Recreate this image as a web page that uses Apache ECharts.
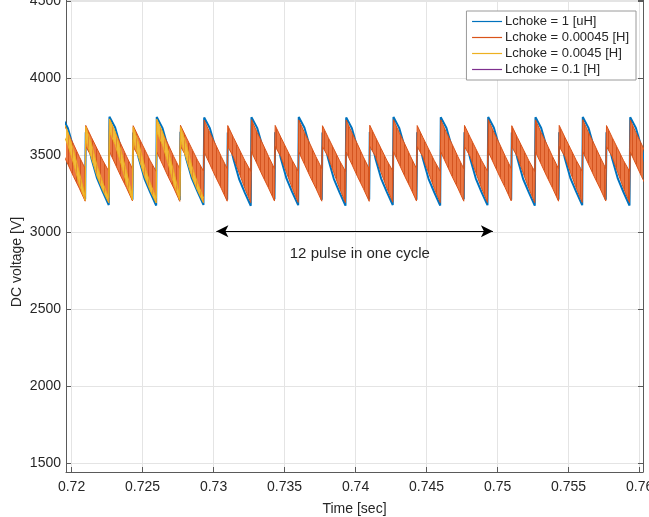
<!DOCTYPE html>
<html>
<head>
<meta charset="utf-8">
<script src="https://cdn.jsdelivr.net/npm/echarts@6/dist/echarts.min.js"></script>
<style>html,body{margin:0;padding:0;background:#fff}#c{width:649px;height:517px}</style>
</head>
<body>
<div id="c"></div>
<script>
// ---- data ----
const seriesNames = ['Lchoke = 1 [uH]', 'Lchoke = 0.00045 [H]', 'Lchoke = 0.0045 [H]', 'Lchoke = 0.1 [H]'];
const xTicks = [0.72, 0.725, 0.73, 0.735, 0.74, 0.745, 0.75, 0.755, 0.76];
const yTicks = [1500, 2000, 2500, 3000, 3500, 4000, 4500];

// sample times (s): peak, then points along each decay, last one is the trough just before the next rise
const time = [
  0.71934, 0.71974, 0.72014, 0.72054, 0.72096,
  0.72100, 0.72140, 0.72180, 0.72220, 0.72262,
  0.72267, 0.72307, 0.72347, 0.72387, 0.72429,
  0.72434, 0.72474, 0.72514, 0.72554, 0.72596,
  0.72600, 0.72640, 0.72680, 0.72720, 0.72762,
  0.72767, 0.72807, 0.72847, 0.72887, 0.72929,
  0.72934, 0.72974, 0.73014, 0.73054, 0.73096,
  0.73100, 0.73140, 0.73180, 0.73220, 0.73262,
  0.73267, 0.73307, 0.73347, 0.73387, 0.73429,
  0.73434, 0.73474, 0.73514, 0.73554, 0.73596,
  0.73600, 0.73640, 0.73680, 0.73720, 0.73762,
  0.73767, 0.73807, 0.73847, 0.73887, 0.73929,
  0.73934, 0.73974, 0.74014, 0.74054, 0.74096,
  0.74100, 0.74140, 0.74180, 0.74220, 0.74262,
  0.74267, 0.74307, 0.74347, 0.74387, 0.74429,
  0.74434, 0.74474, 0.74514, 0.74554, 0.74596,
  0.74600, 0.74640, 0.74680, 0.74720, 0.74762,
  0.74767, 0.74807, 0.74847, 0.74887, 0.74929,
  0.74934, 0.74974, 0.75014, 0.75054, 0.75096,
  0.75100, 0.75140, 0.75180, 0.75220, 0.75262,
  0.75267, 0.75307, 0.75347, 0.75387, 0.75429,
  0.75434, 0.75474, 0.75514, 0.75554, 0.75596,
  0.75600, 0.75640, 0.75680, 0.75720, 0.75762,
  0.75767, 0.75807, 0.75847, 0.75887, 0.75929,
  0.75934, 0.75974, 0.76014, 0.76054, 0.76096
];

// Lchoke = 1 uH (blue)
const blueV = [
  3745, 3675, 3545, 3392, 3212,
  3648, 3478, 3348, 3260, 3175,
  3748, 3678, 3548, 3390, 3210,
  3645, 3475, 3345, 3258, 3172,
  3746, 3676, 3545, 3388, 3208,
  3650, 3478, 3348, 3262, 3176,
  3744, 3674, 3546, 3392, 3210,
  3646, 3474, 3344, 3256, 3170,
  3745, 3676, 3547, 3390, 3212,
  3648, 3477, 3346, 3259, 3174,
  3747, 3677, 3546, 3391, 3209,
  3646, 3475, 3345, 3257, 3171,
  3744, 3674, 3544, 3389, 3211,
  3649, 3478, 3347, 3260, 3175,
  3746, 3676, 3546, 3390, 3210,
  3647, 3476, 3345, 3258, 3172,
  3745, 3675, 3545, 3392, 3212,
  3648, 3477, 3347, 3259, 3174,
  3747, 3677, 3547, 3390, 3209,
  3646, 3475, 3344, 3257, 3171,
  3745, 3675, 3546, 3391, 3211,
  3648, 3477, 3346, 3260, 3174,
  3746, 3676, 3545, 3389, 3210,
  3647, 3476, 3346, 3258, 3172,
  3745, 3675, 3546, 3391, 3211
];

// Lchoke = 0.00045 H (orange): upper and lower edge of the fast ripple band
const orangeTop = [
  3728, 3645, 3570, 3490, 3412,
  3692, 3615, 3540, 3465, 3395,
  3730, 3647, 3572, 3492, 3410,
  3690, 3613, 3538, 3463, 3393,
  3728, 3646, 3570, 3489, 3411,
  3693, 3616, 3541, 3466, 3396,
  3727, 3644, 3569, 3490, 3412,
  3691, 3614, 3539, 3464, 3394,
  3729, 3646, 3571, 3491, 3411,
  3692, 3615, 3540, 3465, 3395,
  3728, 3645, 3570, 3490, 3412,
  3690, 3614, 3539, 3464, 3394,
  3727, 3644, 3569, 3489, 3410,
  3693, 3616, 3541, 3466, 3396,
  3729, 3646, 3571, 3491, 3412,
  3691, 3614, 3539, 3464, 3394,
  3728, 3645, 3570, 3490, 3411,
  3692, 3615, 3540, 3465, 3395,
  3730, 3647, 3572, 3492, 3412,
  3690, 3613, 3538, 3463, 3393,
  3728, 3645, 3570, 3490, 3411,
  3692, 3615, 3540, 3465, 3395,
  3729, 3646, 3571, 3491, 3412,
  3691, 3614, 3539, 3464, 3394,
  3728, 3645, 3570, 3490, 3411
];
const orangeBottom = [
  3520, 3440, 3360, 3285, 3200,
  3555, 3490, 3385, 3285, 3192,
  3522, 3442, 3362, 3287, 3202,
  3553, 3488, 3383, 3283, 3190,
  3520, 3440, 3360, 3285, 3199,
  3556, 3491, 3386, 3286, 3193,
  3519, 3439, 3359, 3284, 3200,
  3554, 3489, 3384, 3284, 3191,
  3521, 3441, 3361, 3286, 3201,
  3555, 3490, 3385, 3285, 3192,
  3520, 3440, 3360, 3285, 3200,
  3553, 3488, 3384, 3284, 3190,
  3519, 3439, 3359, 3284, 3199,
  3556, 3491, 3386, 3286, 3193,
  3521, 3441, 3361, 3286, 3201,
  3554, 3489, 3384, 3284, 3191,
  3520, 3440, 3360, 3285, 3200,
  3555, 3490, 3385, 3285, 3192,
  3522, 3442, 3362, 3287, 3202,
  3553, 3488, 3383, 3283, 3190,
  3520, 3440, 3360, 3285, 3200,
  3555, 3490, 3385, 3285, 3192,
  3521, 3441, 3361, 3286, 3201,
  3554, 3489, 3384, 3284, 3191,
  3520, 3440, 3360, 3285, 3200
];

// Lchoke = 0.0045 H (yellow): only visible during the first pulses
const yellowTime = [
  0.71934, 0.71974, 0.72014, 0.72054, 0.72096,
  0.72100, 0.72140, 0.72180, 0.72220, 0.72262,
  0.72267, 0.72307, 0.72347, 0.72387, 0.72429,
  0.72434, 0.72474, 0.72514, 0.72554, 0.72596,
  0.72600, 0.72640, 0.72680, 0.72720, 0.72762,
  0.72767, 0.72807, 0.72847, 0.72887, 0.72929
];
const yellowTop = [
  3732, 3650, 3530, 3390, 3232,
  3684, 3575, 3430, 3320, 3222,
  3734, 3652, 3532, 3392, 3234,
  3682, 3573, 3428, 3318, 3220,
  3733, 3651, 3531, 3391, 3233,
  3683, 3574, 3429, 3319, 3221
];
const yellowBottom = [
  3650, 3565, 3445, 3310, 3205,
  3600, 3480, 3360, 3270, 3190,
  3652, 3567, 3447, 3312, 3207,
  3598, 3478, 3358, 3268, 3188,
  3651, 3566, 3446, 3311, 3206,
  3599, 3479, 3359, 3269, 3189
];

// Lchoke = 0.1 H (purple): not visible in the plotted window
const purpleTime = [];
const purpleV = [];

// annotation
const arrowStart = [0.7302, 3005];
const arrowEnd = [0.74967, 3005];
const noteText = '12 pulse in one cycle';
const notePos = [0.7403, 2858];

// ---- build the chart ----
const C_BLUE = '#0072BD', C_ORANGE = '#D95319', C_YELLOW = '#EDB120', C_PURPLE = '#7E2F8E';
const pairs = (xs, ys) => xs.map((x, i) => [x, ys[i]]);
const TXT = '#262626';
const FONT = 'Liberation Sans, Arial, sans-serif';

function stripes(base, stripe) {
  const cv = document.createElement('canvas');
  cv.width = 4; cv.height = 4;
  const g = cv.getContext('2d');
  g.fillStyle = base; g.fillRect(0, 0, 4, 4);
  g.fillStyle = stripe; g.fillRect(0, 0, 1, 4);
  return {image: cv, repeat: 'repeat'};
}

function bandSeries(name, xs, hi, lo, fill, z) {
  return {
    name: name, type: 'custom', clip: true, z: z, silent: true,
    data: [[xs[0], hi[0]]],
    renderItem: function (params, api) {
      const pts = [];
      for (let i = 0; i < xs.length; i++) pts.push(api.coord([xs[i], hi[i]]));
      for (let i = xs.length - 1; i >= 0; i--) pts.push(api.coord([xs[i], lo[i]]));
      return {type: 'polygon', shape: {points: pts}, style: {fill: fill, stroke: null}};
    }
  };
}

const chart = echarts.init(document.getElementById('c'), null, {renderer: 'canvas'});
const xMin = 0.71961, xMax = 0.76024, yMin = 1442, yMax = 4506;
const axisCommon = {
  axisLine: {show: true, lineStyle: {color: '#5a5a5a', width: 1}},
  axisTick: {show: true, inside: true, length: 5, lineStyle: {color: '#5a5a5a'}},
};
chart.setOption({
  animation: false,
  backgroundColor: '#fff',
  grid: {left: 66, right: 6, top: 0, bottom: 45, containLabel: false, outerBoundsMode: 'none'},
  legend: {
    data: seriesNames,
    orient: 'vertical',
    right: 13, top: 11,
    itemWidth: 30, itemHeight: 12, itemGap: 3,
    padding: [4, 7, 4, 5],
    backgroundColor: '#fff',
    borderColor: '#9a9a9a', borderWidth: 1,
    itemStyle: {color: 'rgba(0,0,0,0)', borderWidth: 0, opacity: 0},
    lineStyle: {width: 1.2},
    textStyle: {fontFamily: FONT, fontSize: 13, color: TXT, padding: [0, 0, 0, -2]},
    selectedMode: false
  },
  xAxis: Object.assign({
    type: 'value', min: xMin, max: xMax, splitNumber: 8,
    minInterval: xTicks[1] - xTicks[0], maxInterval: xTicks[1] - xTicks[0],
    name: 'Time [sec]', nameLocation: 'middle', nameGap: 30,
    nameTextStyle: {fontFamily: FONT, fontSize: 14, color: TXT},
    axisLabel: {
      fontFamily: FONT, fontSize: 14, color: TXT, margin: 8,
      showMinLabel: false, showMaxLabel: false,
      formatter: v => String(Number(v.toFixed(4)))
    },
    splitLine: {show: true, lineStyle: {color: '#e4e4e4', width: 1}}
  }, axisCommon),
  yAxis: [
    Object.assign({
      type: 'value', min: yMin, max: yMax, splitNumber: 6,
      minInterval: yTicks[1] - yTicks[0], maxInterval: yTicks[1] - yTicks[0],
      axisLabel: {fontFamily: FONT, fontSize: 14, color: TXT, margin: 5,
        showMinLabel: false, showMaxLabel: false, formatter: v => String(Math.round(v))},
      splitLine: {show: true, lineStyle: {color: '#e4e4e4', width: 1}}
    }, axisCommon),
    Object.assign({
      type: 'value', position: 'right', min: yMin, max: yMax, splitNumber: 6,
      minInterval: yTicks[1] - yTicks[0], maxInterval: yTicks[1] - yTicks[0],
      axisLabel: {show: false}, splitLine: {show: false}
    }, axisCommon)
  ],
  graphic: [{
    type: 'text', x: 17, y: 262, rotation: Math.PI / 2,
    style: {text: 'DC voltage [V]', fontFamily: FONT, fontSize: 14, fill: TXT,
      align: 'center', verticalAlign: 'middle'}
  }],
  series: [
    {
      name: seriesNames[3], type: 'line', data: pairs(purpleTime, purpleV),
      color: C_PURPLE, symbol: 'none', lineStyle: {width: 1.5}, z: 1
    },
    {
      name: seriesNames[0], type: 'line', data: pairs(time, blueV), z: 2,
      color: C_BLUE, symbol: 'none', lineStyle: {width: 2, color: C_BLUE},
      markLine: {
        silent: true, symbol: ['arrow', 'arrow'], symbolSize: [9, 12],
        label: {show: false},
        lineStyle: {color: '#000', width: 1, type: 'solid'},
        itemStyle: {color: '#000'},
        data: [[{coord: arrowStart}, {coord: arrowEnd}]]
      },
      markPoint: {
        silent: true, symbol: 'circle', symbolSize: 0,
        label: {show: true, position: 'inside', formatter: noteText,
          fontFamily: FONT, fontSize: 15, color: TXT},
        data: [{coord: notePos}]
      }
    },
    bandSeries('orange band', time, orangeTop, orangeBottom, stripes('rgb(234,118,66)', 'rgb(212,84,32)'), 3),
    {
      name: seriesNames[1], type: 'line', data: pairs(time, orangeTop), z: 4,
      color: C_ORANGE, symbol: 'none', lineStyle: {width: 1, color: C_ORANGE}
    },
    {
      name: 'orange lower edge', type: 'line', data: pairs(time, orangeBottom), z: 4,
      color: C_ORANGE, symbol: 'none', lineStyle: {width: 1, color: C_ORANGE}
    },
    bandSeries('yellow band', yellowTime, yellowTop, yellowBottom, stripes('rgb(240,186,58)', 'rgb(230,138,50)'), 5),
    {
      name: seriesNames[2], type: 'line', data: pairs(yellowTime, yellowTop), z: 6,
      color: C_YELLOW, symbol: 'none', lineStyle: {width: 1, color: C_YELLOW}
    },
    {
      name: 'yellow lower edge', type: 'line', data: pairs(yellowTime, yellowBottom), z: 6,
      color: C_YELLOW, symbol: 'none', lineStyle: {width: 1, color: C_YELLOW}
    }
  ]
});
</script>
</body>
</html>
